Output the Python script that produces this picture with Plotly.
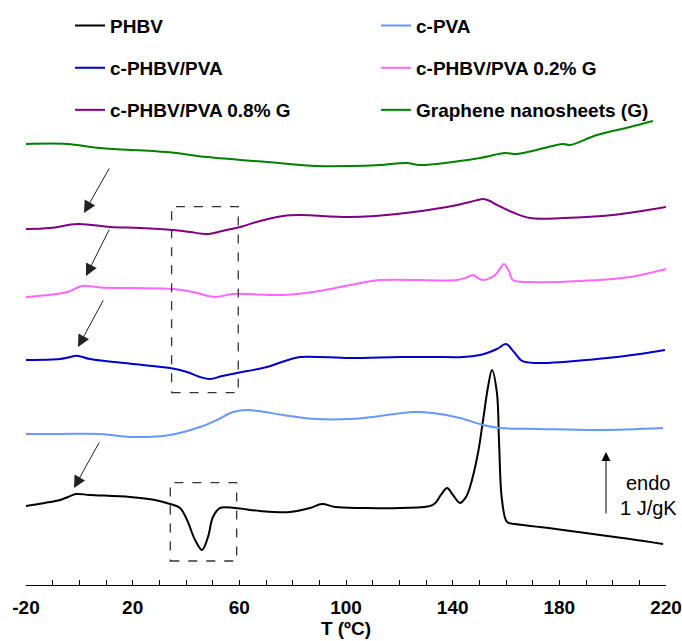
import plotly.graph_objects as go

# Temperature (ºC) and heat flow (J/gK, curves stacked with vertical offsets)
t_phbv = [-20, -12.9, -7.25, -4.25, -1.25, 4.0, 19.0, 28.4, 34.0, 37.75, 40.4, 43.4, 46.0,
          48.25, 50.1, 52.75, 58.4, 67.75, 79.0, 86.5, 91.0, 95.9, 106.4, 120.25, 132.6,
          135.6, 137.9, 140.1, 142.75, 145.0, 146.5, 149.5, 151.4, 153.25, 154.75, 156.6,
          157.4, 158.5, 160.4, 163.4, 172.75, 181.4, 195.25, 206.5, 218.9]
hf_phbv = [1.254, 1.302, 1.349, 1.397, 1.444, 1.429, 1.397, 1.349, 1.286, 1.222, 1.032, 0.714,
           0.556, 0.762, 1.079, 1.222, 1.222, 1.175, 1.159, 1.222, 1.286, 1.238, 1.222, 1.222,
           1.270, 1.429, 1.540, 1.429, 1.302, 1.397, 1.556, 2.095, 2.619, 3.143, 3.413, 3.048,
           2.254, 1.349, 1.000, 0.968, 0.921, 0.873, 0.794, 0.730, 0.651]

t_pva = [-20, -7.25, 7.75, 20.1, 34.0, 45.25, 51.6, 57.6, 63.25, 69.6, 76.4, 89.1, 101.5,
         112.75, 125.1, 132.6, 142.75, 151.4, 157.75, 172.75, 195.25, 218.9]
hf_pva = [2.397, 2.397, 2.397, 2.349, 2.381, 2.508, 2.619, 2.746, 2.778, 2.746, 2.698, 2.635,
          2.635, 2.683, 2.746, 2.730, 2.651, 2.540, 2.492, 2.476, 2.460, 2.492]

t_blend = [-20, -7.25, -4.25, -0.875, 4.0, 20.1, 34.0, 40.4, 45.25, 49.0, 53.5, 59.1, 70.4,
           77.1, 82.75, 101.5, 120.25, 132.6, 143.9, 150.25, 152.9, 156.6, 160.0, 163.0,
           166.0, 171.6, 194.1, 210.25, 219.6]
hf_blend = [3.571, 3.587, 3.611, 3.640, 3.587, 3.508, 3.444, 3.381, 3.302, 3.270, 3.317, 3.365,
            3.460, 3.556, 3.619, 3.603, 3.619, 3.619, 3.619, 3.651, 3.683, 3.746, 3.825, 3.698,
            3.556, 3.524, 3.587, 3.667, 3.730]

t_g02 = [-20, -4.6, 1.0, 7.75, 20.1, 35.1, 42.6, 50.9, 57.6, 76.4, 90.25, 101.5, 112.75,
         141.6, 145.75, 147.6, 149.5, 151.4, 154.0, 155.9, 157.75, 159.25, 161.1, 162.6,
         169.0, 187.75, 206.5, 220.0]
hf_g02 = [4.571, 4.651, 4.746, 4.722, 4.714, 4.698, 4.651, 4.571, 4.619, 4.603, 4.667, 4.762,
          4.841, 4.841, 4.889, 4.921, 4.873, 4.841, 4.873, 4.921, 5.016, 5.095, 4.984, 4.841,
          4.810, 4.825, 4.889, 5.016]

t_g08 = [-20, -11.0, -0.5, 11.5, 22.75, 35.1, 41.5, 47.9, 53.5, 60.25, 67.75, 76.4, 82.75,
         101.5, 119.1, 137.9, 146.5, 151.4, 154.0, 156.6, 162.25, 169.0, 181.4, 200.1, 220.0]
hf_g08 = [5.651, 5.667, 5.730, 5.683, 5.667, 5.635, 5.603, 5.571, 5.619, 5.683, 5.778, 5.857,
          5.873, 5.841, 5.889, 6.000, 6.079, 6.127, 6.095, 6.032, 5.921, 5.825, 5.825, 5.873,
          6.000]

t_gns = [-20, -4.6, 7.75, 32.9, 47.9, 70.4, 89.1, 101.5, 112.75, 122.9, 127.75, 150.25,
         159.6, 164.1, 181.4, 184.0, 194.1, 206.5, 215.1]
hf_gns = [7.000, 7.000, 6.937, 6.873, 6.794, 6.714, 6.651, 6.651, 6.667, 6.698, 6.667, 6.778,
          6.857, 6.841, 7.000, 6.984, 7.143, 7.270, 7.365]

series_names = ["PHBV", "c-PVA", "c-PHBV/PVA", "c-PHBV/PVA 0.2% G",
                "c-PHBV/PVA 0.8% G", "Graphene nanosheets (G)"]
series_colors = ["#000000", "#6699FF", "#0000CC", "#FF66FF", "#800080", "#008000"]
series_t = [t_phbv, t_pva, t_blend, t_g02, t_g08, t_gns]
series_hf = [hf_phbv, hf_pva, hf_blend, hf_g02, hf_g08, hf_gns]

tick_vals = [-20, 20, 60, 100, 140, 180, 220]
tick_text = ["-20", "20", "60", "100", "140", "180", "220"]

# Glass-transition markers: (tail T, tail HF, head T, head HF)
tg_arrows = [(11.5, 6.635, 1.75, 5.905),
             (11.5, 5.667, 2.5, 4.905),
             (9.25, 4.540, -0.5, 3.778),
             (7.75, 2.286, -2.0, 1.540)]

# Highlighted regions: (T min, T max, HF min, HF max)
regions = [(34.6, 59.6, 3.052, 6.005),
           (34.1, 59.0, 0.381, 1.624)]

# Scale bar for the heat flow
scale_t = 197.5
scale_hf = (1.111, 2.111)
scale_text = ["endo", "1 J/gK"]
scale_text_hf = [1.619, 1.222]
scale_text_t = 213.6

FONT = "Liberation Sans, Arial, sans-serif"

# Key layout: two columns, three rows (one legend box per entry)
key_x = [0.0688, 0.5469]
key_y = [0.956, 0.884, 0.812]
legend_ids = ["legend", "legend2", "legend3", "legend4", "legend5", "legend6"]

fig = go.Figure()
for name, color, tt, hh, lg in zip(series_names, series_colors, series_t, series_hf, legend_ids):
    fig.add_trace(go.Scatter(
        x=tt, y=hh, mode="lines", name=name, legend=lg,
        line=dict(color=color, width=2, shape="spline", smoothing=1.0),
    ))

for (x0, x1, y0, y1) in regions:
    fig.add_shape(type="rect", x0=x0, x1=x1, y0=y0, y1=y1, xref="x", yref="y",
                  line=dict(color="#333333", width=1.3, dash="dash"))

for (tx, ty, hx, hy) in tg_arrows:
    fig.add_annotation(x=hx, y=hy, ax=tx, ay=ty, xref="x", yref="y", axref="x", ayref="y",
                       text="", showarrow=True, arrowhead=2, arrowsize=2.4,
                       arrowwidth=1, arrowcolor="#222222")

fig.add_annotation(x=scale_t, y=scale_hf[1], ax=scale_t, ay=scale_hf[0],
                   xref="x", yref="y", axref="x", ayref="y", text="", showarrow=True,
                   arrowhead=2, arrowsize=1.8, arrowwidth=1, arrowcolor="#000000")
for txt, yy in zip(scale_text, scale_text_hf):
    fig.add_annotation(x=scale_text_t, y=yy, xref="x", yref="y", text=txt, showarrow=False,
                       xanchor="center", yanchor="middle",
                       font=dict(family=FONT, size=20, color="#000000"))

legend_style = dict(orientation="h", xanchor="left", yanchor="middle",
                    bgcolor="rgba(0,0,0,0)",
                    font=dict(family=FONT, size=19, color="#000000", weight="bold"),
                    itemwidth=30, borderwidth=0)

layout_legends = {}
for i, lg in enumerate(legend_ids):
    layout_legends[lg] = dict(legend_style, x=key_x[i % 2], y=key_y[i // 2])

fig.update_layout(
    width=682, height=641,
    margin=dict(l=26, r=16, t=0, b=56, autoexpand=False),
    paper_bgcolor="white", plot_bgcolor="white",
    showlegend=True,
    xaxis=dict(
        range=[-20, 220], tickmode="array", tickvals=tick_vals, ticktext=tick_text,
        showgrid=False, zeroline=False, automargin=False,
        showline=True, linecolor="#000000", linewidth=1,
        ticks="inside", ticklen=5, tickwidth=1, tickcolor="#000000",
        minor=dict(dtick=10, tick0=-20, ticks="inside", ticklen=5, tickwidth=1,
                   tickcolor="#000000"),
        ticklabelstandoff=5,
        tickfont=dict(family=FONT, size=19, color="#000000", weight="bold"),
        title=dict(text="T (ºC)", standoff=4,
                   font=dict(family=FONT, size=19, color="#000000", weight="bold")),
    ),
    yaxis=dict(range=[0, 585 / 63], visible=False, fixedrange=True, automargin=False),
    **layout_legends,
)

fig.write_html("out.html")
